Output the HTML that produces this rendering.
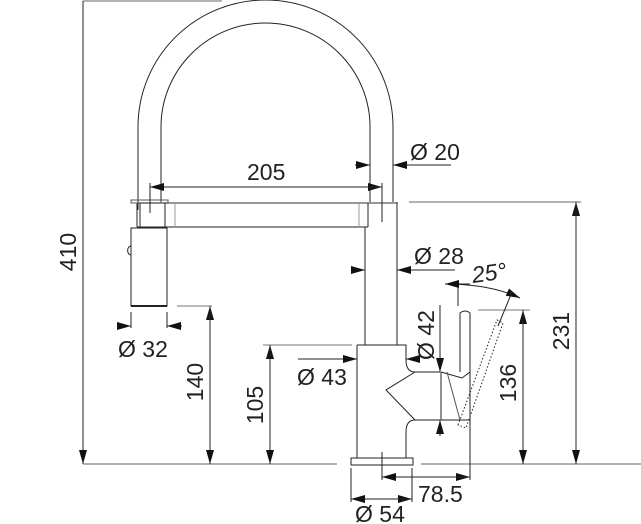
<!DOCTYPE html>
<html><head><meta charset="utf-8"><style>
html,body{margin:0;padding:0;background:#fff}
svg{display:block}
text{font-family:"Liberation Sans",sans-serif;font-size:23px;fill:#222}
</style></head><body>
<svg width="641" height="524" viewBox="0 0 641 524" xmlns="http://www.w3.org/2000/svg">
<defs>
<marker id="a" markerWidth="14" markerHeight="8" refX="14" refY="4" orient="auto" markerUnits="userSpaceOnUse"><path d="M0,0 L14,4 L0,8 Z" fill="#111"/></marker>
</defs>
<g stroke="#222" stroke-width="1" fill="none">
<g stroke="#999" stroke-width="1.5">
<line x1="83" y1="1" x2="222" y2="1"/>
<line x1="83" y1="464" x2="337" y2="464"/>
<line x1="421" y1="464" x2="641" y2="464"/>
<line x1="409" y1="202" x2="581" y2="202"/>
</g>
<path d="M138,210 L138,127 A127.5,127 0 0 1 393,127 L393,202"/>
<path d="M161,202 L161,127 A104.5,104 0 0 1 370,127 L370,202"/>
<line x1="137" y1="203" x2="397" y2="203" stroke="#777" stroke-width="1.5"/>
<line x1="137" y1="227" x2="368" y2="227"/>
<line x1="137" y1="203" x2="137" y2="227"/>
<line x1="140" y1="203" x2="140" y2="227"/>
<line x1="165" y1="203" x2="165" y2="227"/>
<line x1="175" y1="203" x2="175" y2="227" stroke="#999"/>
<line x1="359" y1="203" x2="359" y2="227" stroke="#999"/>
<line x1="368" y1="203" x2="368" y2="227"/>
<rect x="131" y="200" width="37" height="3" stroke="#555"/>
<rect x="131" y="228" width="36" height="78"/>
<line x1="131" y1="306" x2="167" y2="306" stroke-width="2"/>
<path d="M131,246 a3,4 0 0 0 0,9"/>
<line x1="365" y1="227" x2="365" y2="345"/>
<line x1="397" y1="202" x2="397" y2="345"/>
<path d="M357,345 L406,345 L406,360 Q406,372 415,372 L440,372"/>
<path d="M415,372 L386,390 L415,420"/>
<path d="M440,420 L415,420 Q406,420 406,432 L406,458"/>
<line x1="357" y1="345" x2="357" y2="458"/>
<rect x="351" y="458" width="62" height="7"/>
<path d="M460,372 L460,313 Q465,309 470,313 L470,420"/>
<path d="M441,372 L441,420 L470,420"/>
<path d="M441,372 L462,378 L470,372"/>
<path d="M447,372 L460,420" stroke="#555"/>
<path d="M458,425 L497,320 L503,323 L466,428 Z" stroke-dasharray="1.5,2"/>
<line x1="83" y1="1" x2="83" y2="464" marker-end="url(#a)"/>
<line x1="150" y1="187" x2="382" y2="187" marker-end="url(#a)"/>
<line x1="382" y1="187" x2="150" y2="187" marker-end="url(#a)"/>
<line x1="150" y1="183" x2="150" y2="213"/>
<line x1="382" y1="183" x2="382" y2="222"/>
<line x1="355" y1="165" x2="370" y2="165" marker-end="url(#a)"/>
<line x1="451" y1="165" x2="393" y2="165" marker-end="url(#a)"/>
<line x1="352" y1="270" x2="365" y2="270" marker-end="url(#a)"/>
<line x1="455" y1="270" x2="397" y2="270" marker-end="url(#a)"/>
<line x1="117" y1="326" x2="131" y2="326" marker-end="url(#a)"/>
<line x1="182" y1="326" x2="167" y2="326" marker-end="url(#a)"/>
<line x1="131" y1="312" x2="131" y2="328"/>
<line x1="167" y1="312" x2="167" y2="328"/>
<line x1="177" y1="306" x2="212" y2="306" stroke="#777"/>
<line x1="210" y1="464" x2="210" y2="306" marker-end="url(#a)"/>
<line x1="210" y1="306" x2="210" y2="464" marker-end="url(#a)"/>
<line x1="263" y1="345" x2="352" y2="345" stroke="#777"/>
<line x1="270" y1="464" x2="270" y2="345" marker-end="url(#a)"/>
<line x1="270" y1="345" x2="270" y2="464" marker-end="url(#a)"/>
<line x1="298" y1="359" x2="357" y2="359" marker-end="url(#a)"/>
<line x1="420" y1="359" x2="406" y2="359" marker-end="url(#a)"/>
<line x1="440" y1="305" x2="440" y2="372" marker-end="url(#a)"/>
<line x1="440" y1="436" x2="440" y2="420" marker-end="url(#a)"/>
<line x1="478" y1="310" x2="530" y2="310" stroke="#777"/>
<line x1="523" y1="464" x2="523" y2="310" marker-end="url(#a)"/>
<line x1="523" y1="310" x2="523" y2="464" marker-end="url(#a)"/>
<line x1="576" y1="464" x2="576" y2="202" marker-end="url(#a)"/>
<line x1="576" y1="202" x2="576" y2="464" marker-end="url(#a)"/>
<line x1="382" y1="452" x2="382" y2="480"/>
<line x1="470" y1="420" x2="470" y2="480"/>
<line x1="382" y1="477" x2="470" y2="477" marker-end="url(#a)"/>
<line x1="470" y1="477" x2="382" y2="477" marker-end="url(#a)"/>
<line x1="351" y1="468" x2="351" y2="502"/>
<line x1="412" y1="468" x2="412" y2="502"/>
<line x1="351" y1="499" x2="412" y2="499" marker-end="url(#a)"/>
<line x1="412" y1="499" x2="351" y2="499" marker-end="url(#a)"/>
<line x1="458" y1="283" x2="458" y2="306"/>
<path d="M445,284 Q490,284 520,298" marker-end="url(#a)"/>
<line x1="470" y1="284" x2="445" y2="284" marker-end="url(#a)"/>
<line x1="512" y1="292" x2="498" y2="326"/>
</g>
<text x="247" y="180">205</text>
<text x="410" y="160">Ø 20</text>
<text x="414" y="264">Ø 28</text>
<text x="118" y="357">Ø 32</text>
<text x="297" y="385">Ø 43</text>
<text x="418" y="502">78.5</text>
<text x="355" y="522">Ø 54</text>
<text x="473" y="283" font-style="italic" transform="rotate(-8 473 283)">25°</text>
<text transform="translate(76,252) rotate(-90)" text-anchor="middle">410</text>
<text transform="translate(203,382) rotate(-90)" text-anchor="middle">140</text>
<text transform="translate(263,405) rotate(-90)" text-anchor="middle">105</text>
<text transform="translate(434,335) rotate(-90)" text-anchor="middle">Ø 42</text>
<text transform="translate(516,383) rotate(-90)" text-anchor="middle">136</text>
<text transform="translate(569,331) rotate(-90)" text-anchor="middle">231</text>
</svg>
</body></html>
